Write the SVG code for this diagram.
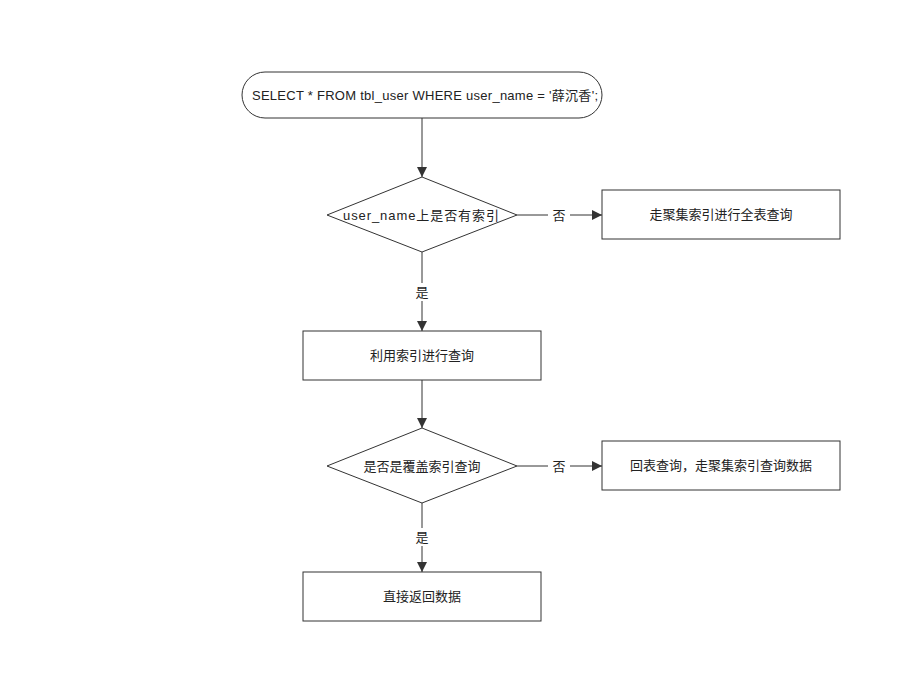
<svg xmlns="http://www.w3.org/2000/svg" width="901" height="682" viewBox="0 0 901 682">
<style>
.s{fill:#fff;stroke:#333;stroke-width:1}
.t{font-family:"Liberation Sans","Noto Sans CJK SC",sans-serif;font-size:13px;fill:#222;text-anchor:middle;dominant-baseline:central}
.c{stroke:#333;stroke-width:1;fill:none;marker-end:url(#a)}
.l{font-family:"Liberation Sans","Noto Sans CJK SC",sans-serif;font-size:13px;fill:#222;text-anchor:middle;dominant-baseline:central}
</style>
<defs><marker id="a" viewBox="0 0 10 10" refX="10" refY="5" markerWidth="10" markerHeight="10" markerUnits="userSpaceOnUse" orient="auto"><path d="M0,0L10,5L0,10z" fill="#333"/></marker></defs>
<rect width="901" height="682" fill="#fff"/>
<g id="connectors">
<path class="c" d="M422,118V177"/>
<path class="c" d="M517,215H602"/>
<path class="c" d="M422,252V331"/>
<path class="c" d="M422,380V428"/>
<path class="c" d="M517,466H602"/>
<path class="c" d="M422,503V572"/>
<rect x="548" y="206" width="22" height="18" fill="#fff"/><text class="l" x="559" y="215">否</text>
<rect x="548" y="457" width="22" height="18" fill="#fff"/><text class="l" x="559" y="466">否</text>
<rect x="411" y="283" width="22" height="18" fill="#fff"/><text class="l" x="422" y="292">是</text>
<rect x="411" y="528" width="22" height="18" fill="#fff"/><text class="l" x="422" y="537">是</text>
</g>
<g id="start"><rect class="s" x="242" y="72" width="360" height="46" rx="23"/><text class="t" x="425" y="95" textLength="346" lengthAdjust="spacing">SELECT * FROM tbl_user WHERE user_name = '薛沉香';</text></g>
<g id="d1"><path class="s" d="M422,177L517,215L422,252L327,215z"/><text class="t" x="421" y="215" textLength="156" lengthAdjust="spacing">user_name上是否有索引</text></g>
<g id="full"><rect class="s" x="602" y="190" width="238" height="49"/><text class="t" x="721" y="214">走聚集索引进行全表查询</text></g>
<g id="useidx"><rect class="s" x="303" y="331" width="238" height="49"/><text class="t" x="422" y="355">利用索引进行查询</text></g>
<g id="d2"><path class="s" d="M422,428L517,466L422,503L327,466z"/><text class="t" x="422" y="466">是否是覆盖索引查询</text></g>
<g id="back"><rect class="s" x="602" y="441" width="238" height="49"/><text class="t" x="721" y="465">回表查询，走聚集索引查询数据</text></g>
<g id="ret"><rect class="s" x="303" y="572" width="238" height="49"/><text class="t" x="422" y="596">直接返回数据</text></g>
</svg>
